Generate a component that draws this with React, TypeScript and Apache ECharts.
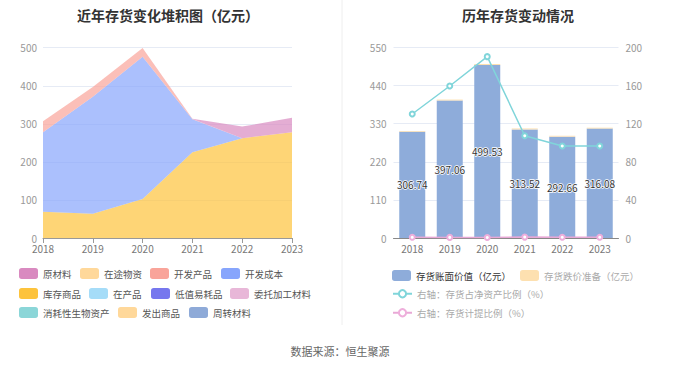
import React, { useEffect, useRef } from 'react';
import * as echarts from 'echarts';

const years = ['2018', '2019', '2020', '2021', '2022', '2023'];

// Left chart: inventory composition (亿元)
const stockGoods = [69, 64, 102.5, 225, 262, 278]; // 库存商品
const devCost = [208.7, 307, 374, 87, 0, 0]; // 开发成本
const devProducts = [29.04, 26.06, 23.03, 0.52, 0, 0]; // 开发产品
const rawMaterial = [0, 0, 0, 1, 30.66, 38.08]; // 原材料
const goodsInTransit = [0, 0, 0, 0, 0, 0]; // 在途物资
const wip = [0, 0, 0, 0, 0, 0]; // 在产品
const lowValue = [0, 0, 0, 0, 0, 0]; // 低值易耗品
const consigned = [0, 0, 0, 0, 0, 0]; // 委托加工材料
const bioAssets = [0, 0, 0, 0, 0, 0]; // 消耗性生物资产
const goodsShipped = [0, 0, 0, 0, 0, 0]; // 发出商品
const turnover = [0, 0, 0, 0, 0, 0]; // 周转材料

const leftLegendOrder = ['原材料', '在途物资', '开发产品', '开发成本', '库存商品', '在产品', '低值易耗品', '委托加工材料', '消耗性生物资产', '发出商品', '周转材料'];

// Right chart
const bookValue = [306.74, 397.06, 499.53, 313.52, 292.66, 316.08];
const impairment = [2.2, 2.6, 2.9, 2.8, 2.5, 2.4];
const netAssetRatio = [130.2, 159.6, 190.4, 107.4, 96.6, 96.6];
const provisionRatio = [0.7, 0.65, 0.58, 0.95, 0.85, 0.76];

const rightLegendOrder = ['存货账面价值（亿元）', '存货跌价准备（亿元）', '右轴：存货占净资产比例（%）', '右轴：存货计提比例（%）'];

const leftTicks = { min: 0, max: 500, interval: 100 };
const rightTicksL = { min: 0, max: 550, interval: 110 };
const rightTicksR = { min: 0, max: 200, interval: 40 };

const FONT = '"Noto Sans CJK SC", "Noto Sans", sans-serif';

// legend item placement (layout only)
const leftLegendPos: [number, number][] = [
  [19, 274], [80, 274], [150, 274], [221, 274],
  [19, 294], [89, 294], [151, 294], [230, 294],
  [19, 313], [118, 313], [189, 313],
];
const rightLegendPos: [number, number][] = [[392, 276], [520, 276], [392, 295], [392, 314]];

export default function App() {
  const ref = useRef<HTMLDivElement>(null);
  useEffect(() => {
    if (!ref.current) return;
    const chart = echarts.init(ref.current, null, { renderer: 'svg' });

    const stackDefs: { name: string; data: number[]; color: string }[] = [
      { name: '库存商品', data: stockGoods, color: '#fdc33c' },
      { name: '开发成本', data: devCost, color: '#87a5fc' },
      { name: '开发产品', data: devProducts, color: '#f9a49a' },
      { name: '原材料', data: rawMaterial, color: '#d98ac0' },
      { name: '在途物资', data: goodsInTransit, color: '#ffd89a' },
      { name: '在产品', data: wip, color: '#a5dcf8' },
      { name: '低值易耗品', data: lowValue, color: '#7677ee' },
      { name: '委托加工材料', data: consigned, color: '#e8b7d8' },
      { name: '消耗性生物资产', data: bioAssets, color: '#8bd6d8' },
      { name: '发出商品', data: goodsShipped, color: '#ffd89a' },
      { name: '周转材料', data: turnover, color: '#8eaad8' },
    ];

    const leftSeries = stackDefs.map((d) => ({
      name: d.name,
      type: 'line',
      stack: 'inv',
      xAxisIndex: 0,
      yAxisIndex: 0,
      data: d.data,
      symbol: 'none',
      showSymbol: false,
      itemStyle: { color: d.color },
      lineStyle: { width: 0, color: d.color },
      areaStyle: { color: d.color, opacity: 0.7 },
    }));

    const lt = (color: string) => ({ fontSize: 9.5, color, fontFamily: FONT });

    const leftLegends = leftLegendOrder.map((name, i) => ({
      left: leftLegendPos[i][0], top: leftLegendPos[i][1] - 6, padding: 0,
      itemWidth: 19, itemHeight: 11, itemGap: 0, icon: 'roundRect',
      textStyle: lt('#555'), data: [name],
    }));
    const rightLegends = rightLegendOrder.map((name, i) => ({
      left: rightLegendPos[i][0], top: rightLegendPos[i][1] - 6, padding: 0,
      itemWidth: 19, itemHeight: i < 2 ? 11 : 9, itemGap: 0,
      ...(i < 2 ? { icon: 'roundRect' } : {}),
      textStyle: lt(i === 0 ? '#333' : '#aaa'), data: [name],
    }));

    const option: any = {
      animation: false,
      textStyle: { fontFamily: FONT },
      title: [
        { text: '近年存货变化堆积图（亿元）', left: 72, top: 3, textStyle: { fontSize: 14, fontWeight: 'bold', color: '#333', fontFamily: FONT } },
        { text: '历年存货变动情况', left: 457, top: 3, textStyle: { fontSize: 14, fontWeight: 'bold', color: '#333', fontFamily: FONT } },
      ],
      legend: [...leftLegends, ...rightLegends],
      grid: [
        { left: 43, top: 47.7, width: 249, height: 190.3 },
        { left: 393.5, top: 47.5, width: 225, height: 190.5 },
      ],
      xAxis: [
        {
          type: 'category', gridIndex: 0, data: years, boundaryGap: false,
          axisLine: { lineStyle: { color: '#999' } },
          axisTick: { show: true, lineStyle: { color: '#999' } },
          axisLabel: { color: '#777', fontSize: 10, margin: 5 },
        },
        {
          type: 'category', gridIndex: 1, data: years,
          axisLine: { lineStyle: { color: '#888' } },
          axisTick: { show: false },
          axisLabel: { color: '#777', fontSize: 10, margin: 5 },
        },
      ],
      yAxis: [
        {
          type: 'value', gridIndex: 0, ...leftTicks,
          axisLine: { show: false }, axisTick: { show: false },
          axisLabel: { color: '#999', fontSize: 10, margin: 6 },
          splitLine: { lineStyle: { color: '#e6ebf5' } },
        },
        {
          type: 'value', gridIndex: 1, ...rightTicksL,
          axisLine: { show: false }, axisTick: { show: false },
          axisLabel: { color: '#999', fontSize: 10, margin: 7 },
          splitLine: { lineStyle: { color: '#e6ebf5' } },
        },
        {
          type: 'value', gridIndex: 1, position: 'right', ...rightTicksR,
          axisLine: { show: false }, axisTick: { show: false },
          axisLabel: { color: '#999', fontSize: 10, margin: 7 },
          splitLine: { show: false },
        },
      ],
      series: [
        ...leftSeries,
        {
          name: '存货账面价值（亿元）', type: 'bar', stack: 'bar', xAxisIndex: 1, yAxisIndex: 1,
          data: bookValue, barWidth: 26,
          itemStyle: { color: '#8eacda' },
          label: {
            show: true, position: 'inside', color: '#333', fontSize: 10,
            textBorderColor: '#fff', textBorderWidth: 1.5,
            formatter: (p: any) => p.value.toFixed(2),
          },
        },
        {
          name: '存货跌价准备（亿元）', type: 'bar', stack: 'bar', xAxisIndex: 1, yAxisIndex: 1,
          data: impairment, barWidth: 26,
          itemStyle: { color: '#fde0b0' },
        },
        {
          name: '右轴：存货占净资产比例（%）', type: 'line', xAxisIndex: 1, yAxisIndex: 2,
          data: netAssetRatio, symbol: 'emptyCircle', symbolSize: 5, z: 5,
          itemStyle: { color: '#80d5da' },
          lineStyle: { color: '#80d5da', width: 1.5 },
        },
        {
          name: '右轴：存货计提比例（%）', type: 'line', xAxisIndex: 1, yAxisIndex: 2,
          data: provisionRatio, symbol: 'emptyCircle', symbolSize: 5, z: 5,
          itemStyle: { color: '#eeaedb' },
          lineStyle: { color: '#e8a8d6', width: 1.5 },
        },
      ],
      graphic: [
        { type: 'line', shape: { x1: 342, y1: 0, x2: 342, y2: 325 }, style: { stroke: '#eeeeee', lineWidth: 1 } },
        {
          type: 'text', x: 340, y: 351,
          style: { text: '数据来源：恒生聚源', fill: '#666', font: `11px ${FONT}`, textAlign: 'center', textVerticalAlign: 'middle' },
        },
      ],
    };
    chart.setOption(option);
    return () => chart.dispose();
  }, []);
  return <div ref={ref} style={{ position: 'absolute', left: 0, top: 0, width: 680, height: 367 }} />;
}
